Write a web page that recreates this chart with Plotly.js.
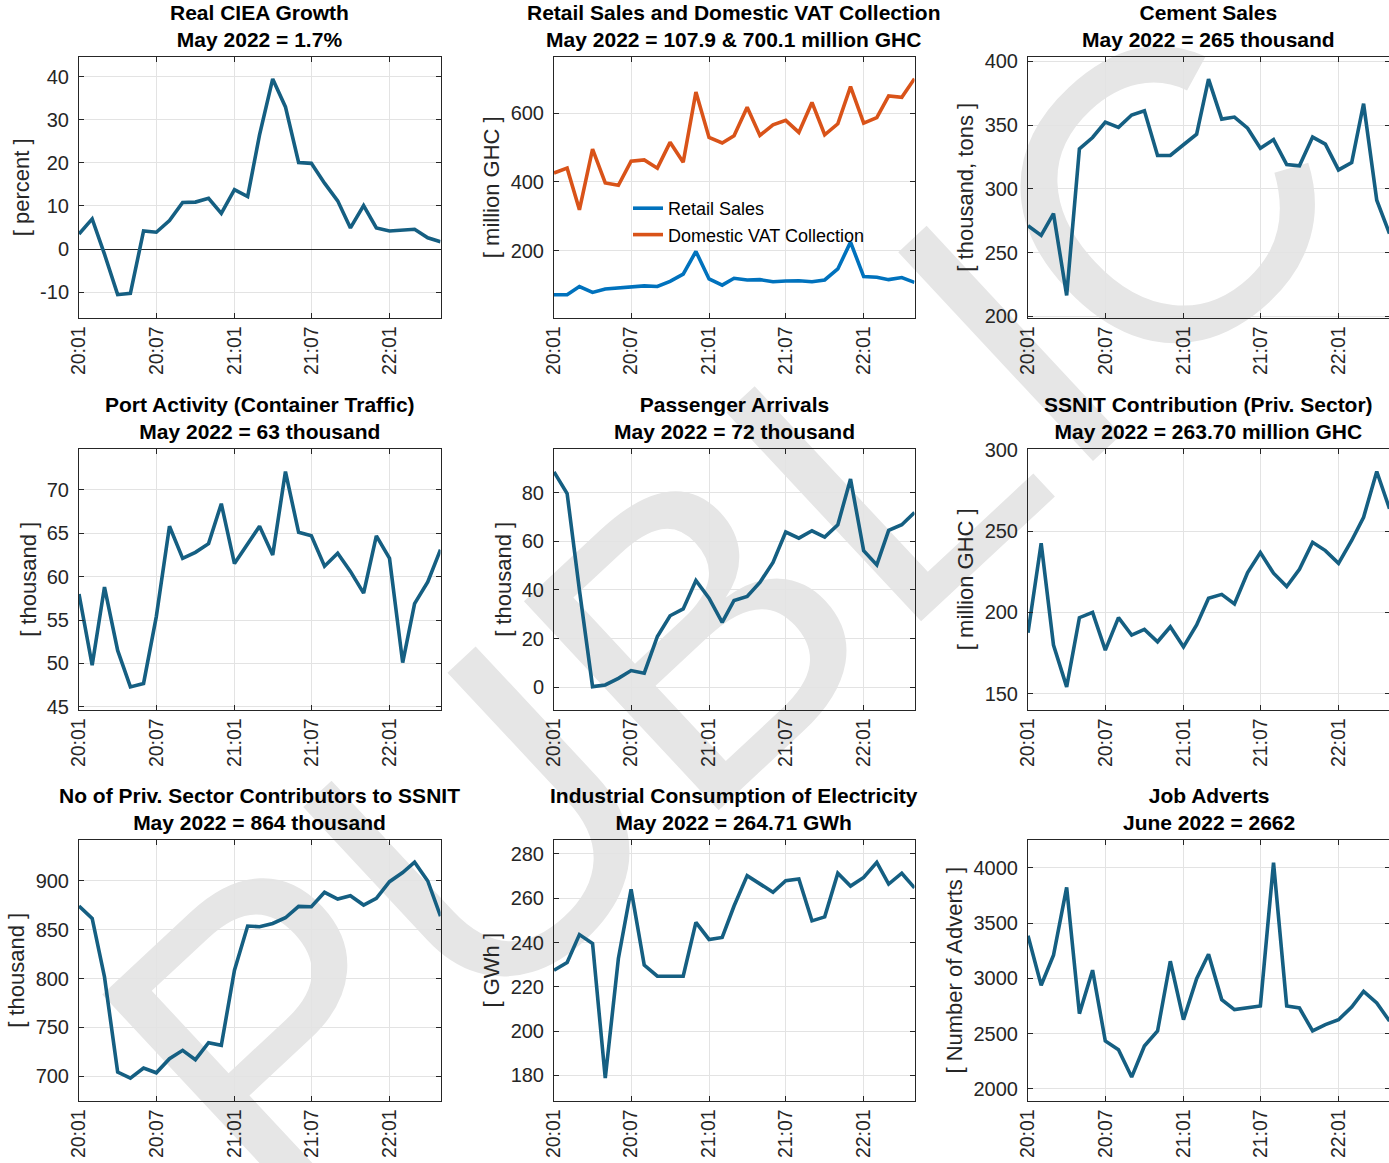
<!DOCTYPE html>
<html>
<head>
<meta charset="utf-8">
<script src="https://cdn.plot.ly/plotly-3.0.1.min.js"></script>
<style>html,body{margin:0;padding:0;overflow:hidden;background:#fff}</style>
</head>
<body>
<div id="chart"></div>
<script>
// ---- categories (months) ----
const months = ['2020-01-01','2020-02-01','2020-03-01','2020-04-01','2020-05-01','2020-06-01',
  '2020-07-01','2020-08-01','2020-09-01','2020-10-01','2020-11-01','2020-12-01',
  '2021-01-01','2021-02-01','2021-03-01','2021-04-01','2021-05-01','2021-06-01',
  '2021-07-01','2021-08-01','2021-09-01','2021-10-01','2021-11-01','2021-12-01',
  '2022-01-01','2022-02-01','2022-03-01','2022-04-01','2022-05-01'];
const xTickVals = ['2020-01-01','2020-07-01','2021-01-01','2021-07-01','2022-01-01'];
const xTickText = ['20:01','20:07','21:01','21:07','22:01'];

// ---- series values ----
const cieaGrowth = [3.5,7.0,-1.2,-10.6,-10.3,4.2,3.9,6.6,10.8,10.9,11.8,8.3,13.8,12.2,26.5,39.5,33.0,20.1,19.9,15.3,11.2,4.9,10.1,4.9,4.2,4.5,4.6,2.6,1.7];
const retailSales = [72,72,96,79,89,92,94,98,96,111,132,198,118,100,120,115,116,110,112,113,110,115,147,225,125,123,116,122,107.9];
const vatCollection = [426,440,319,495,397,390,460,464,440,515,457,661,529,513,534,617,535,566,579,544,631,537,569,677,571,587,650,646,700.1];
const cementSales = [271.2,263.6,280.6,216.5,331.4,340.3,352.4,348.2,357.9,361.3,326.2,326.2,334.6,342.9,386.1,354.7,356.3,347.6,331.9,338.7,319.1,318.1,340.6,335.1,314.9,320.7,366.8,291.1,265];
const portTraffic = [58.0,49.8,58.8,51.5,47.3,47.7,55.4,65.8,62.1,62.8,63.8,68.4,61.5,63.8,65.8,62.5,72.1,65.1,64.7,61.2,62.7,60.6,58.1,64.7,62.1,50.1,56.9,59.4,63.1];
const passengerArrivals = [88.5,79.6,40,0.3,1.0,3.7,6.9,5.8,20.9,29.4,32.2,43.9,36.6,26.7,35.7,37.3,43.1,51.3,63.8,61.3,64.3,61.7,66.8,85.6,56.1,50.3,64.5,66.8,71.8];
const ssnitContribution = [187.5,242.5,180,154.3,196.8,200.1,176.9,196.8,186.1,189.6,182,191.2,178.9,192.3,208.7,211.1,205.2,224.5,236.8,224.1,215.9,226.5,243.1,238,230.2,244.2,258.5,286.6,263.7];
const ssnitContributors = [874.3,861.6,801.7,704.1,697.9,708.2,703.4,717.8,726.4,716.8,734.2,731.5,808.6,853.8,853.1,856.5,862.3,874,873.6,888.4,881.5,884.9,875.3,882.2,899.3,908.6,919.2,900,864];
const electricity = [227.5,231,243.6,239.6,178.8,232.8,264,229.8,224.8,224.8,224.8,249.1,241.4,242.3,256.5,270.2,266.4,262.7,267.9,268.7,249.8,251.6,271.3,265.5,269.4,276.2,266.4,271.3,264.71];
const jobAdverts = [3384,2937,3208,3822,2680,3073,2432,2353,2106,2387,2523,3154,2625,2997,3217,2807,2716,2731,2749,4045,2749,2731,2523,2580,2625,2740,2882,2776,2613];

// ---- titles / labels ----
const panelTitles = [
  'Real CIEA Growth<br>May 2022 = 1.7%',
  'Retail Sales and Domestic VAT Collection<br>May 2022 = 107.9 & 700.1 million GHC',
  'Cement Sales<br>May 2022 = 265 thousand',
  'Port Activity (Container Traffic)<br>May 2022 = 63 thousand',
  'Passenger Arrivals<br>May 2022 = 72 thousand',
  'SSNIT Contribution (Priv. Sector)<br>May 2022 = 263.70 million GHC',
  'No of Priv. Sector Contributors to SSNIT<br>May 2022 = 864 thousand',
  'Industrial Consumption of Electricity<br>May 2022 = 264.71 GWh',
  'Job Adverts<br>June 2022 = 2662'
];
const yLabels = ['[ percent ]','[ million GHC ]','[ thousand, tons ]','[ thousand ]','[ thousand ]',
  '[ million GHC ]','[ thousand ]','[ GWh ]','[ Number of Adverts ]'];
const yTickSets = [
  [-10,0,10,20,30,40],[200,400,600],[200,250,300,350,400],[45,50,55,60,65,70],[0,20,40,60,80],
  [150,200,250,300],[700,750,800,850,900],[180,200,220,240,260,280],[2000,2500,3000,3500,4000]
];
const yRanges = [[-15.9,44.6],[6,763],[199.2,403.4],[44.7,74.7],[-9.1,97.9],[140.4,300.4],[675,942],[168.7,286.3],[1894,4251]];

// ---- layout geometry ----
const W = 1391, H = 1163;
const colX = [[79,440.5],[554,914.5],[1028,1389.5]];
const rowY = [[57,317.5],[449,709.5],[840,1100.5]];
const FONT = 'Liberation Sans, Arial, Helvetica, sans-serif';
const AX = '#262626';
const LINE = '#155f82';

const panelSeries = [
  [{y: cieaGrowth}],
  [{y: retailSales, name: 'Retail Sales', color: '#0072BD'}, {y: vatCollection, name: 'Domestic VAT Collection', color: '#D95319'}],
  [{y: cementSales}],
  [{y: portTraffic}],
  [{y: passengerArrivals}],
  [{y: ssnitContribution}],
  [{y: ssnitContributors}],
  [{y: electricity}],
  [{y: jobAdverts}]
];

const data = [];
const layout = {
  width: W, height: H,
  margin: {l: 0, r: 0, t: 0, b: 0},
  paper_bgcolor: '#ffffff',
  plot_bgcolor: 'rgba(0,0,0,0)',
  font: {family: FONT, color: AX},
  showlegend: true,
  legend: {x: 628 / W, y: 1 - 190 / H, xanchor: 'left', yanchor: 'top',
    bgcolor: 'rgba(0,0,0,0)', borderwidth: 0, font: {size: 18, color: '#000', family: FONT},
    tracegroupgap: 0},
  annotations: [],
  shapes: [{
    type: 'rect', xref: 'paper', yref: 'paper', x0: 0, x1: 1, y0: 0, y1: 1,
    line: {width: 0}, fillcolor: 'rgba(0,0,0,0)', layer: 'below',
    label: {text: 'PUBLIC', textangle: -43, textposition: 'middle center',
      font: {size: 415, color: '#e6e6e6', family: FONT}}
  }]
};

for (let i = 0; i < 9; i++) {
  const r = Math.floor(i / 3), c = i % 3;
  const sfx = i === 0 ? '' : String(i + 1);
  panelSeries[i].forEach(s => {
    data.push({
      type: 'scatter', mode: 'lines', x: months, y: s.y,
      xaxis: 'x' + sfx, yaxis: 'y' + sfx,
      line: {color: s.color || LINE, width: 3.6},
      name: s.name || '', showlegend: !!s.name,
      hoverinfo: 'x+y'
    });
  });
  layout['xaxis' + sfx] = {
    domain: [colX[c][0] / W, colX[c][1] / W], anchor: 'y' + sfx,
    type: 'date', range: [months[0], months[months.length - 1]],
    tickmode: 'array', tickvals: xTickVals, ticktext: xTickText, tickangle: -90,
    ticks: 'inside', ticklen: 5, tickcolor: AX, tickwidth: 1,
    showline: true, linecolor: AX, linewidth: 1, mirror: 'ticks',
    showgrid: true, gridcolor: '#e3e3e3', gridwidth: 1, zeroline: false,
    tickfont: {size: 19.5, color: AX, family: FONT}, ticklabelstandoff: 0
  };
  layout['yaxis' + sfx] = {
    domain: [1 - rowY[r][1] / H, 1 - rowY[r][0] / H], anchor: 'x' + sfx,
    range: yRanges[i], tickmode: 'array', tickvals: yTickSets[i],
    ticktext: yTickSets[i].map(String),
    ticks: 'inside', ticklen: 5, tickcolor: AX, tickwidth: 1,
    showline: true, linecolor: AX, linewidth: 1, mirror: 'ticks',
    showgrid: true, gridcolor: '#e3e3e3', gridwidth: 1,
    zeroline: i === 0, zerolinecolor: AX, zerolinewidth: 1,
    tickfont: {size: 20, color: AX, family: FONT}, ticklabelstandoff: 5,
    title: {text: yLabels[i], font: {size: 22, color: AX, family: FONT}, standoff: 4}
  };
  layout.annotations.push({
    text: panelTitles[i], xref: 'paper', yref: 'paper',
    x: (colX[c][0] + (c === 2 ? 1389.5 : colX[c][1])) / 2 / W,
    y: 1 - rowY[r][0] / H, xanchor: 'center', yanchor: 'bottom', yshift: 5,
    showarrow: false, align: 'center', borderpad: 0,
    font: {size: 21, color: '#000', family: FONT, weight: 'bold'}
  });
}

Plotly.newPlot('chart', data, layout, {displayModeBar: false, responsive: false});
</script>
</body>
</html>
